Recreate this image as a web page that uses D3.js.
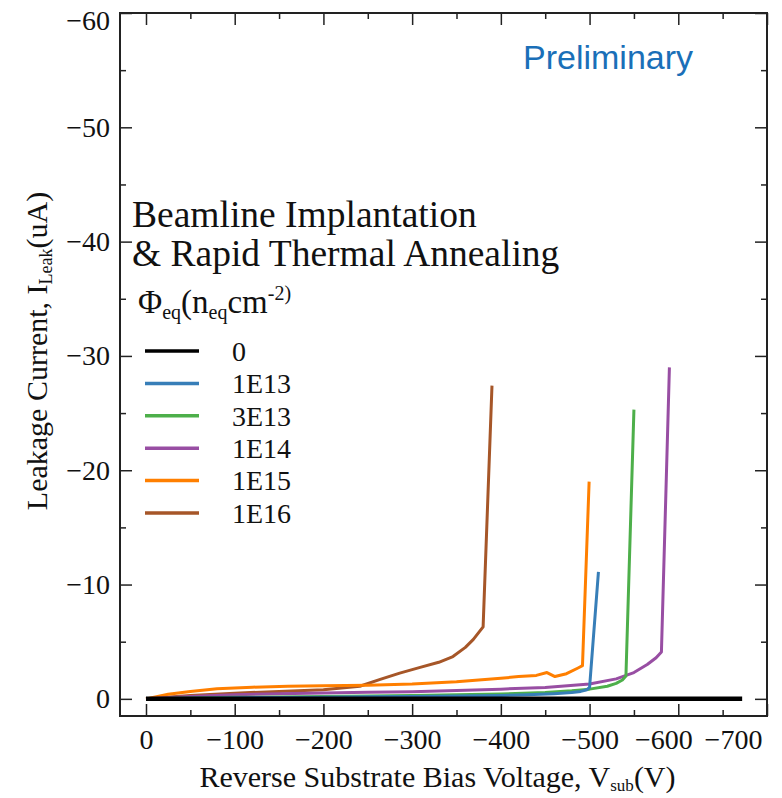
<!DOCTYPE html>
<html>
<head>
<meta charset="utf-8">
<script src="https://d3js.org/d3.v7.min.js"></script>
<style>
    body { margin: 0; background: #fff; }
    svg text { font-family: "Liberation Serif", "Times New Roman", serif; fill: #111; }
    .axis path { display: none; }
    .axis line { stroke: #222; stroke-width: 1.5; }
    .axis text { font-size: 28px; }
</style>
</head>
<body>
<div id="chart"></div>
<script>
    // fluence labels + colours (legend order)
    const fluences = ["0", "1E13", "3E13", "1E14", "1E15", "1E16"];
    const colors = ["#000000", "#377eb8", "#4daf4a", "#984ea3", "#ff7f00", "#a65628"];

    // voltage (V) / current (uA), one pair per fluence
    const volt0 = [0, -672];
    const curr0 = [0, 0];
    const volt1E13 = [0, -50, -100, -150, -200, -250, -300, -350, -400, -430, -460, -480, -490, -497, -500, -510];
    const curr1E13 = [0, -0.05, -0.1, -0.12, -0.15, -0.18, -0.2, -0.25, -0.3, -0.35, -0.45, -0.55, -0.65, -0.8, -1.0, -11.1];
    const volt3E13 = [0, -50, -100, -150, -200, -250, -300, -350, -400, -450, -480, -500, -520, -530, -537, -541, -550];
    const curr3E13 = [0, -0.08, -0.13, -0.17, -0.2, -0.25, -0.3, -0.35, -0.42, -0.55, -0.7, -0.85, -1.1, -1.35, -1.65, -2.0, -25.3];
    const volt1E14 = [0, -50, -100, -150, -200, -250, -300, -350, -400, -450, -500, -530, -550, -565, -575, -581, -590];
    const curr1E14 = [0, -0.2, -0.35, -0.45, -0.52, -0.58, -0.63, -0.72, -0.85, -1.0, -1.3, -1.75, -2.3, -3.0, -3.6, -4.1, -29.0];
    const volt1E15 = [0, -25, -50, -80, -120, -160, -200, -250, -300, -350, -400, -420, -440, -452, -461, -474, -487, -492, -499.5];
    const curr1E15 = [0, -0.4, -0.65, -0.88, -1.02, -1.1, -1.15, -1.2, -1.3, -1.5, -1.8, -1.95, -2.05, -2.3, -1.95, -2.2, -2.7, -2.9, -19.0];
    const volt1E16 = [0, -50, -100, -150, -200, -241, -264, -286, -309, -330, -346, -360, -369, -380, -390];
    const curr1E16 = [0, -0.3, -0.5, -0.65, -0.8, -1.1, -1.7, -2.25, -2.75, -3.2, -3.7, -4.5, -5.2, -6.3, -27.4];

    const xTicks = [0, -100, -200, -300, -400, -500, -600, -700];
    const yTicks = [0, -10, -20, -30, -40, -50, -60];

    const voltSets = [volt0, volt1E13, volt3E13, volt1E14, volt1E15, volt1E16];
    const currSets = [curr0, curr1E13, curr3E13, curr1E14, curr1E15, curr1E16];

    const W = 782, H = 798;
    const margin = { top: 13, right: 15, bottom: 82, left: 120 };
    const width = W - margin.left - margin.right,
        height = H - margin.top - margin.bottom;

    const svg = d3.select("#chart").append("svg")
        .attr("width", W)
        .attr("height", H);

    const g = svg.append("g")
        .attr("transform", `translate(${margin.left},${margin.top})`);

    const x = d3.scaleLinear().domain([29.3, -700]).range([0, width]);
    const y = d3.scaleLinear().domain([1.5, -60]).range([height, 0]);

    const minorX = d3.range(-50, -700, -100);
    const minorY = d3.range(-5, -60, -10);
    const fmt = d3.format("d");

    // ticks on all 4 sides, pointing in
    g.append("g").attr("class", "axis").attr("transform", `translate(0,${height})`)
        .call(d3.axisBottom(x).tickValues(xTicks).tickSize(-12).tickSizeOuter(0).tickPadding(13).tickFormat(fmt));
    g.append("g").attr("class", "axis").attr("transform", `translate(0,${height})`)
        .call(d3.axisBottom(x).tickValues(minorX).tickSize(-6).tickSizeOuter(0).tickFormat(""));
    g.append("g").attr("class", "axis")
        .call(d3.axisTop(x).tickValues(xTicks).tickSize(-12).tickSizeOuter(0).tickFormat(""));
    g.append("g").attr("class", "axis")
        .call(d3.axisTop(x).tickValues(minorX).tickSize(-6).tickSizeOuter(0).tickFormat(""));

    g.append("g").attr("class", "axis yax")
        .call(d3.axisLeft(y).tickValues(yTicks).tickSize(-12).tickSizeOuter(0).tickPadding(10).tickFormat(fmt));
    g.append("g").attr("class", "axis")
        .call(d3.axisLeft(y).tickValues(minorY).tickSize(-6).tickSizeOuter(0).tickFormat(""));
    g.append("g").attr("class", "axis").attr("transform", `translate(${width},0)`)
        .call(d3.axisRight(y).tickValues(yTicks).tickSize(-12).tickSizeOuter(0).tickFormat(""));
    g.append("g").attr("class", "axis").attr("transform", `translate(${width},0)`)
        .call(d3.axisRight(y).tickValues(minorY).tickSize(-6).tickSizeOuter(0).tickFormat(""));

    // the last two x labels are squeezed left in the original, top y label pushed down
    g.selectAll(".axis text").filter(d => d === -600).attr("dx", -15);
    g.selectAll(".axis text").filter(d => d === -700).attr("dx", -34);
    g.selectAll(".yax text").filter(d => d === -60).attr("dy", "0.6em");

    g.append("rect")
        .attr("width", width)
        .attr("height", height)
        .attr("fill", "none")
        .attr("stroke", "#222")
        .attr("stroke-width", 2);

    const line = d3.line()
        .x(d => x(d[0]))
        .y(d => y(d[1]));

    // coloured curves first, black (unirradiated) on top
    const order = [5, 4, 3, 2, 1, 0];
    order.forEach(k => {
        const pts = voltSets[k].map((v, i) => [v, currSets[k][i]]);
        g.append("path")
            .datum(pts)
            .attr("d", line)
            .attr("fill", "none")
            .attr("stroke", colors[k])
            .attr("stroke-width", k === 0 ? 4.5 : 3)
            .attr("stroke-linejoin", "round");
    });

    // title block
    svg.append("text").attr("x", 132).attr("y", 227)
        .style("font-size", "37.5px").text("Beamline Implantation");
    svg.append("text").attr("x", 132).attr("y", 266)
        .style("font-size", "37.5px").text("& Rapid Thermal Annealing");

    const hdr = svg.append("text").attr("x", 138).attr("y", 313).style("font-size", "33px");
    hdr.append("tspan").text("Φ");
    hdr.append("tspan").attr("dy", 6).style("font-size", "20px").text("eq");
    hdr.append("tspan").attr("dy", -6).text("(n");
    hdr.append("tspan").attr("dy", 6).style("font-size", "20px").text("eq");
    hdr.append("tspan").attr("dy", -6).text("cm");
    hdr.append("tspan").attr("dy", -13).style("font-size", "20px").text("-2)");

    const legend = svg.selectAll(".legend")
        .data(fluences)
        .enter()
        .append("g")
        .attr("class", "legend")
        .attr("transform", (d, i) => `translate(0,${351 + i * 32.4})`);

    legend.append("line")
        .attr("x1", 145).attr("x2", 199)
        .attr("stroke", (d, i) => colors[i])
        .attr("stroke-width", 3.5);

    legend.append("text")
        .attr("x", 232)
        .attr("dy", "0.35em")
        .style("font-size", "28px")
        .text(d => d);

    // axis titles
    const xt = svg.append("text")
        .attr("x", margin.left + width / 2 - 6)
        .attr("y", 787)
        .attr("text-anchor", "middle")
        .style("font-size", "30px");
    xt.append("tspan").text("Reverse Substrate Bias Voltage, V");
    xt.append("tspan").attr("dy", 4).style("font-size", "17px").text("sub");
    xt.append("tspan").attr("dy", -4).text("(V)");

    const yt = svg.append("text")
        .attr("transform", "translate(47,351) rotate(-90)")
        .attr("text-anchor", "middle")
        .style("font-size", "30px");
    yt.append("tspan").text("Leakage Current, I");
    yt.append("tspan").attr("dy", 5).style("font-size", "18px").text("Leak");
    yt.append("tspan").attr("dy", -5).text("(uA)");

    svg.append("text")
        .attr("x", 523)
        .attr("y", 69)
        .style("font-family", "'Liberation Sans', Arial, sans-serif")
        .style("font-size", "34px")
        .style("fill", "#1a6fb8")
        .text("Preliminary");
</script>
</body>
</html>
